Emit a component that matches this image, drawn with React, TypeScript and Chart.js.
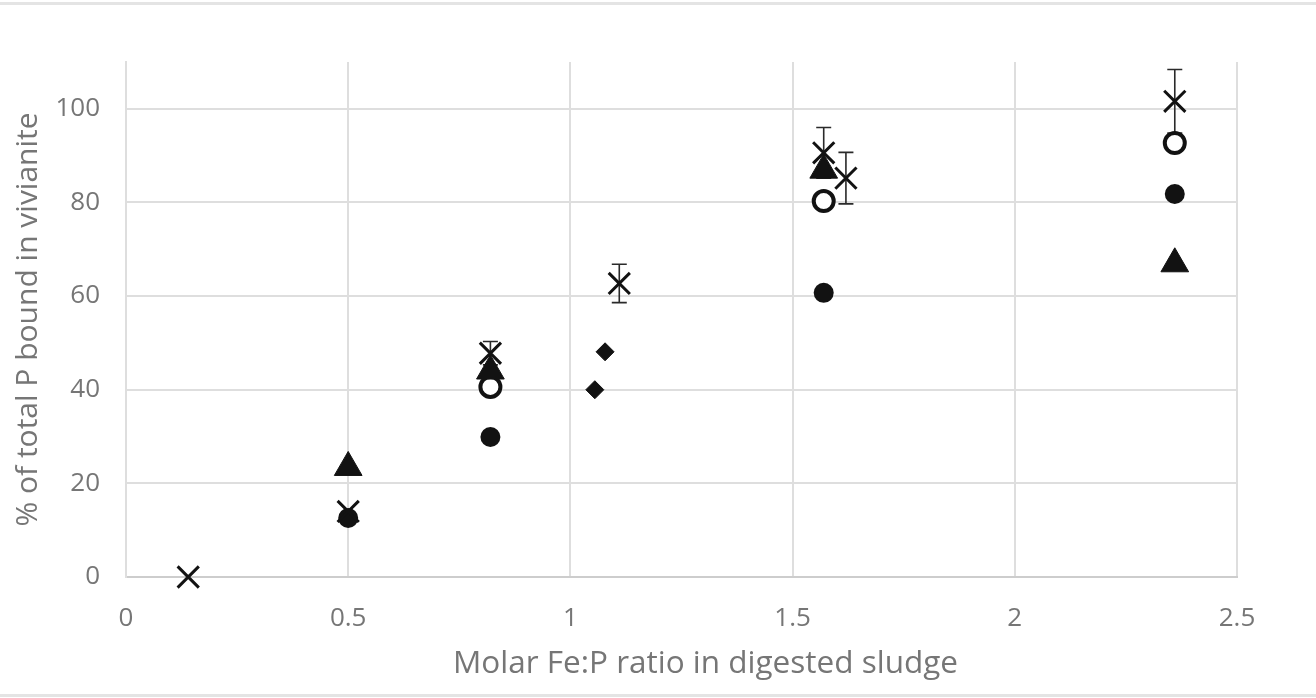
import React, { useEffect, useRef } from "react";
import { Chart, registerables } from "chart.js";

Chart.register(...registerables);

// Cross (X) series with error bars
const crossX = [0.14, 0.5, 0.82, 1.11, 1.57, 1.62, 2.36];
const crossY = [0, 14, 47.8, 62.7, 90.6, 85.2, 101.6];
const crossErr = [0, 0, 2.5, 4.1, 5.4, 5.5, 6.8];

// Filled triangle series
const triX = [0.5, 0.82, 1.57, 2.36];
const triY = [23.4, 44, 86.9, 66.9];

// Open circle series
const openX = [0.82, 1.57, 2.36];
const openY = [40.6, 80.3, 92.7];

// Filled circle series
const dotX = [0.5, 0.82, 1.57, 2.36];
const dotY = [12.6, 29.9, 60.7, 81.8];

// Diamond series
const diaX = [1.055, 1.078];
const diaY = [40, 48.1];

const yTicks = [0, 20, 40, 60, 80, 100];
const xTicks = [0, 0.5, 1, 1.5, 2, 2.5];

const toPts = (xs: number[], ys: number[]) => xs.map((x, i) => ({ x, y: ys[i] }));

const INK = "#121212";
const TEXT = "#767676";
const FONT = "'Open Sans', sans-serif";
const X_TITLE_SHIFT = 24;

const errorBarPlugin = {
  id: "errorBars",
  beforeDraw(chart: any) {
    const s = chart.scales.x;
    if (s && !s._titleShifted) {
      const orig = s.drawTitle.bind(s);
      s.drawTitle = () => {
        s.left += X_TITLE_SHIFT;
        s.right += X_TITLE_SHIFT;
        orig();
        s.left -= X_TITLE_SHIFT;
        s.right -= X_TITLE_SHIFT;
      };
      s._titleShifted = true;
    }
  },
  beforeDatasetsDraw(chart: any) {
    const ctx = chart.ctx;
    const xs = chart.scales.x;
    const ys = chart.scales.y;
    ctx.save();
    ctx.strokeStyle = "#2a2a2a";
    ctx.lineWidth = 1.6;
    crossX.forEach((xv, i) => {
      const e = crossErr[i];
      if (!e) return;
      const px = xs.getPixelForValue(xv);
      const top = ys.getPixelForValue(crossY[i] + e);
      const bot = ys.getPixelForValue(crossY[i] - e);
      const cap = 7.5;
      ctx.beginPath();
      ctx.moveTo(px, top);
      ctx.lineTo(px, bot);
      ctx.moveTo(px - cap, top);
      ctx.lineTo(px + cap, top);
      ctx.moveTo(px - cap, bot);
      ctx.lineTo(px + cap, bot);
      ctx.stroke();
    });
    ctx.restore();
  },
};

export default function App() {
  const ref = useRef<HTMLCanvasElement | null>(null);

  useEffect(() => {
    if (!ref.current) return;
    const chart = new Chart(ref.current, {
      type: "scatter",
      data: {
        datasets: [
          {
            label: "cross",
            data: toPts(crossX, crossY),
            pointStyle: "crossRot",
            pointRadius: 15,
            pointBorderWidth: 3,
            borderColor: INK,
            backgroundColor: INK,
            clip: false,
          },
          {
            label: "triangle",
            data: toPts(triX, triY),
            pointStyle: "triangle",
            pointRadius: 16,
            pointBorderWidth: 1,
            borderColor: INK,
            backgroundColor: INK,
            clip: false,
          },
          {
            label: "open",
            data: toPts(openX, openY),
            pointStyle: "circle",
            pointRadius: 10,
            pointBorderWidth: 4,
            borderColor: INK,
            backgroundColor: "#ffffff",
            clip: false,
          },
          {
            label: "dot",
            data: toPts(dotX, dotY),
            pointStyle: "circle",
            pointRadius: 10,
            pointBorderWidth: 0,
            borderColor: INK,
            backgroundColor: INK,
            clip: false,
          },
          {
            label: "diamond",
            data: toPts(diaX, diaY),
            pointStyle: "rectRot",
            pointRadius: 9,
            pointBorderWidth: 1,
            borderColor: INK,
            backgroundColor: INK,
            clip: false,
          },
        ],
      },
      options: {
        responsive: false,
        animation: false,
        devicePixelRatio: 1,
        layout: { padding: { top: 62, right: 79, bottom: 0, left: 0 } },
        plugins: {
          legend: { display: false },
          tooltip: { enabled: false },
        },
        scales: {
          x: {
            type: "linear",
            min: 0,
            max: 2.5,
            afterFit: (s: any) => {
              s.height = 121;
            },
            afterBuildTicks: (s: any) => {
              s.ticks = xTicks.map((v) => ({ value: v }));
            },
            grid: { color: "#dedede", lineWidth: 2, drawTicks: false },
            border: { color: "#cdcdcd", width: 2 },
            ticks: {
              padding: 26,
              color: TEXT,
              font: { family: FONT, size: 26 },
              callback: (v: any) => String(v),
            },
            title: {
              display: true,
              text: "Molar Fe:P ratio in digested sludge",
              color: TEXT,
              font: { family: FONT, size: 31.5 },
              padding: { top: 0, bottom: 15 },
            },
          },
          y: {
            type: "linear",
            min: 0,
            max: 110,
            afterFit: (s: any) => {
              s.width = 126;
            },
            afterBuildTicks: (s: any) => {
              s.ticks = yTicks.map((v) => ({ value: v }));
            },
            grid: { color: "#dedede", lineWidth: 2, drawTicks: false },
            border: { color: "#dedede", width: 2 },
            ticks: {
              padding: 26,
              color: TEXT,
              font: { family: FONT, size: 26 },
              callback: (v: any) => String(v),
            },
            title: {
              display: true,
              text: "% of total P bound in vivianite",
              color: TEXT,
              font: { family: FONT, size: 30 },
              padding: { top: 10, bottom: 0 },
            },
          },
        },
      },
      plugins: [errorBarPlugin],
    });
    return () => chart.destroy();
  }, []);

  return (
    <div
      style={{
        position: "absolute",
        left: 0,
        top: 0,
        width: 1316,
        height: 698,
        background: "#ffffff",
        overflow: "hidden",
      }}
    >
      <canvas ref={ref} width={1316} height={698} style={{ display: "block" }} />
      <div style={{ position: "absolute", left: 0, top: 2, width: 1316, height: 3, background: "#e4e4e4" }} />
      <div style={{ position: "absolute", left: 0, top: 694, width: 1316, height: 3, background: "#e4e4e4" }} />
    </div>
  );
}
